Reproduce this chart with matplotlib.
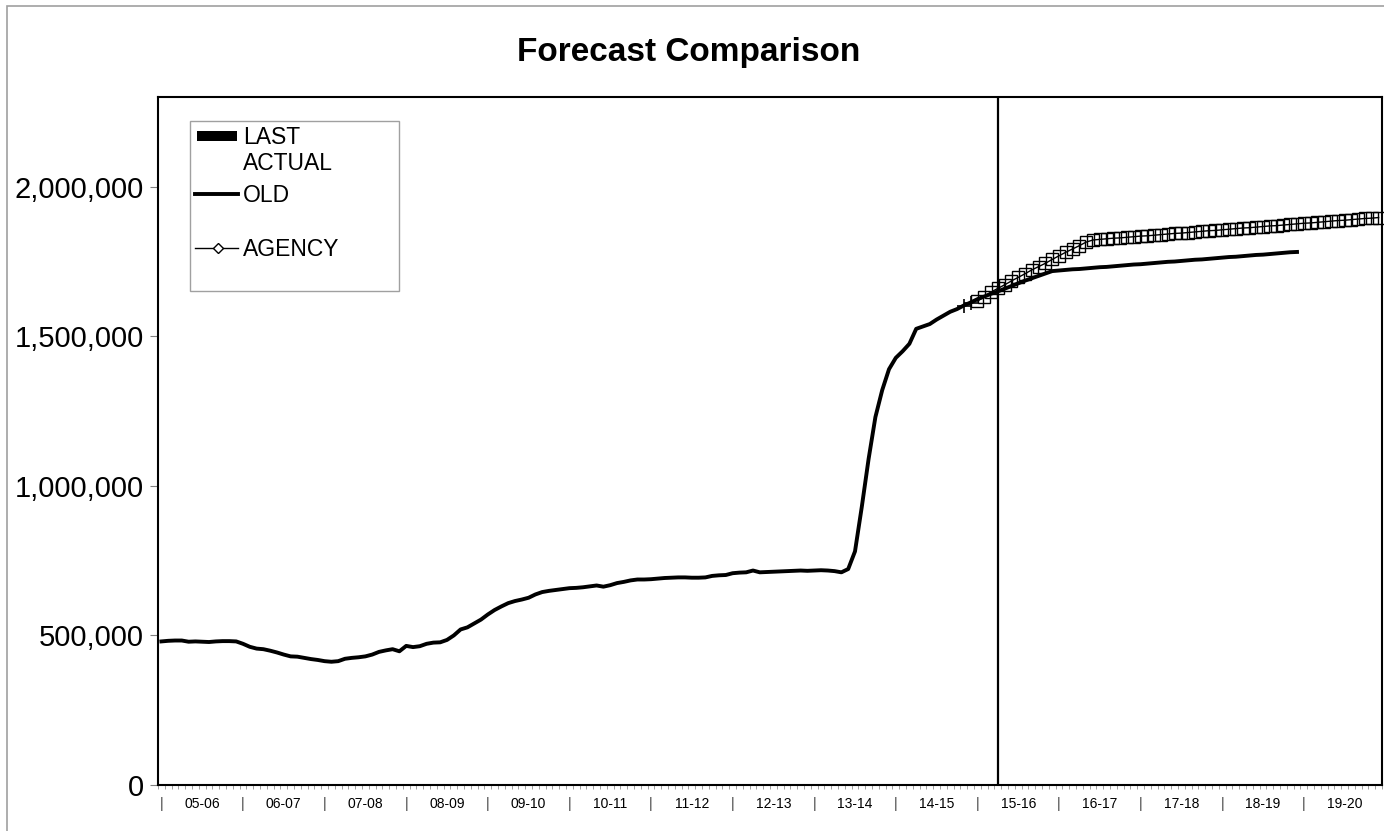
import numpy as np
import matplotlib
matplotlib.use("Agg")
import matplotlib.pyplot as plt
from matplotlib.patches import Rectangle
from matplotlib.ticker import FuncFormatter

plt.rcParams['font.family'] = ['Liberation Sans', 'DejaVu Sans']

# ---- data (thousands, monthly from Jul 2005) ----
years = ["05-06", "06-07", "07-08", "08-09", "09-10", "10-11", "11-12", "12-13",
         "13-14", "14-15", "15-16", "16-17", "17-18", "18-19", "19-20"]

actual = [480, 482, 483, 483, 479, 480, 479, 478, 480, 481, 481, 480,
          472, 462, 456, 454, 449, 443, 436, 430, 429, 425, 421, 418,
          414, 412, 414, 422, 425, 427, 430, 436, 445, 450, 454, 447,
          465, 461, 464, 472, 476, 477, 485, 500, 520, 527, 540, 553,
          570, 585, 597, 608, 615, 620, 626, 637, 645, 649, 652, 655,
          658, 659, 661, 664, 667, 663, 668, 675, 679, 684, 687, 687,
          688, 690, 692, 693, 694, 694, 693, 693, 694, 699, 701, 702,
          708, 710, 711, 717, 711, 712, 713, 714, 715, 716, 717, 716,
          717, 718, 717, 715, 711, 722, 781, 930, 1090, 1230, 1320, 1390,
          1428, 1450, 1475, 1525, 1533, 1541, 1556, 1569, 1582, 1591, 1603, 1613,
          1624, 1633, 1642, 1650]

old_forecast = [1659, 1668, 1677, 1686, 1694, 1702, 1710, 1718,
                1720, 1722, 1724, 1725, 1727, 1729, 1731, 1732, 1734, 1736,
                1738, 1740, 1741, 1743, 1745, 1747, 1749, 1750, 1752, 1754,
                1756, 1757, 1759, 1761, 1763, 1765, 1766, 1768, 1770, 1772,
                1773, 1775, 1777, 1779, 1781, 1782]

plus_start = 118
plus_vals = [1600, 1610]

agency_start = 120
agency = [1618, 1632, 1648, 1660, 1672, 1685, 1697, 1709, 1722, 1733,
          1744, 1757, 1769, 1781, 1792, 1803, 1815, 1822, 1824, 1826,
          1828, 1829, 1831, 1833, 1835, 1836, 1838, 1840, 1842, 1844,
          1845, 1847, 1849, 1851, 1853, 1854, 1856, 1858, 1860, 1862,
          1863, 1865, 1867, 1869, 1870, 1872, 1874, 1876, 1878, 1879,
          1881, 1883, 1885, 1887, 1888, 1890, 1892, 1894, 1895, 1897]

last_actual = len(actual) - 1
n_months = 12 * len(years)

# ---- figure ----
fig = plt.figure(figsize=(13.84, 8.31), dpi=100)
fig.patches.append(Rectangle((7 / 1384, -0.01), 1.0, 1 - 6 / 831 + 0.01,
                             transform=fig.transFigure, fill=False,
                             edgecolor="#a0a0a0", linewidth=1.2))
ax = fig.add_axes([158 / 1384, 1 - 785 / 831, 1224 / 1384, 688 / 831])

old = actual + old_forecast
ax.plot(np.arange(len(old)), np.array(old) * 1000, color="black", lw=2.8,
        solid_joinstyle="round", zorder=3)
ax.plot(np.arange(plus_start, plus_start + len(plus_vals)), np.array(plus_vals) * 1000,
        ls="none", marker="+", ms=10, mew=1.2, color="black", zorder=4)
ax.plot(np.arange(agency_start, agency_start + len(agency)), np.array(agency) * 1000,
        color="black", lw=1.0, marker="s", ms=8, mfc="none", mew=1.0,
        zorder=4, clip_on=False)
ax.axvline(last_actual, color="black", lw=1.6, zorder=2)

ax.set_xlim(-0.5, n_months - 0.5)
ax.set_ylim(0, 2300000)
ax.set_yticks(np.arange(0, 2000001, 500000))
ax.yaxis.set_major_formatter(FuncFormatter(lambda v, p: f"{int(v):,}"))
ax.tick_params(axis="y", labelsize=21, length=6, width=0.8, color="#808080", pad=4)

ax.set_xticks([])
ax.set_xticks(np.arange(0, n_months + 1) - 0.5, minor=True)
ax.tick_params(axis="x", which="minor", length=3, width=0.6, color="#909090")
ax.tick_params(axis="x", which="major", length=0)

for i, yr in enumerate(years):
    ax.text(12 * i, -0.028, "|", transform=ax.get_xaxis_transform(),
            ha="center", va="center", fontsize=10, color="#404040")
    ax.text(12 * i + 6, -0.028, yr, transform=ax.get_xaxis_transform(),
            ha="center", va="center", fontsize=10)

for s in ax.spines.values():
    s.set_linewidth(1.5)

fig.text(689 / 1384, 1 - 53 / 831, "Forecast Comparison", ha="center", va="center",
         fontsize=24, fontweight="bold")

# ---- legend ----
tr = ax.transAxes
ax.add_patch(Rectangle((0.0261, 0.718), 0.1708, 0.2471, transform=tr, fill=False,
                       edgecolor="#a0a0a0", lw=1.0, zorder=5))
ax.add_patch(Rectangle((39 / 1224, 1 - 44 / 688), 40 / 1224, 10 / 688, transform=tr,
                       facecolor="black", edgecolor="none", zorder=5))
ax.text(85 / 1224, 1 - 41 / 688, "LAST", transform=tr, va="center", ha="left", fontsize=16.5)
ax.text(85 / 1224, 1 - 66 / 688, "ACTUAL", transform=tr, va="center", ha="left", fontsize=16.5)
ax.plot([37 / 1224, 80 / 1224], [1 - 97 / 688] * 2, transform=tr, color="black", lw=2.8)
ax.text(85 / 1224, 1 - 98 / 688, "OLD", transform=tr, va="center", ha="left", fontsize=16.5)
ax.plot([37 / 1224, 80 / 1224], [1 - 151 / 688] * 2, transform=tr, color="black", lw=1.0)
ax.plot([60 / 1224], [1 - 151 / 688], transform=tr, marker="D", ms=5, mfc="white",
        mec="black", mew=1.0)
ax.text(85 / 1224, 1 - 152 / 688, "AGENCY", transform=tr, va="center", ha="left", fontsize=16.5)

fig.savefig("out.png", dpi=100)
